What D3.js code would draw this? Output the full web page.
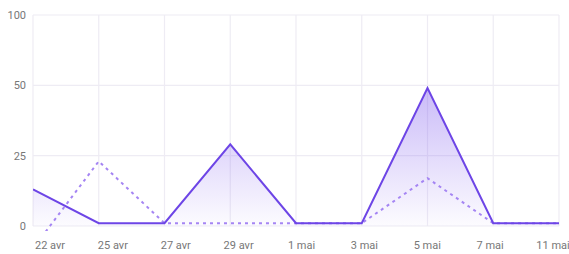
<!DOCTYPE html>
<html>
<head>
<meta charset="utf-8">
<script src="https://cdn.jsdelivr.net/npm/d3@7"></script>
<style>
  body { margin: 0; background: #fff; }
  text { font-family: Roboto, "Noto Sans", sans-serif; }
</style>
</head>
<body>
<div id="canvas"></div>
<script>
const dates = ["22 avr", "25 avr", "27 avr", "29 avr", "1 mai", "3 mai", "5 mai", "7 mai", "11 mai"];
const current = [13, 1, 1, 29, 1, 1, 49, 1, 1];
const previous = [-8, 23, 1, 1, 1, 1, 17, 1, 1];
const yTicks = [0, 25, 50, 100];

const width = 569;
const height = 254;
const margin = { top: 15, left: 33, bottom: 28, right: 10 };
const iwidth = width - margin.left - margin.right;
const iheight = height - margin.top - margin.bottom;

const svg = d3.select("#canvas").append("svg")
  .attr("width", width)
  .attr("height", height);

const defs = svg.append("defs");
const grad = defs.append("linearGradient")
  .attr("id", "fill")
  .attr("x1", 0).attr("y1", 0).attr("x2", 0).attr("y2", 1);
grad.append("stop").attr("offset", "0%").attr("stop-color", "#7b55ee").attr("stop-opacity", 0.4);
grad.append("stop").attr("offset", "100%").attr("stop-color", "#7b55ee").attr("stop-opacity", 0.02);

defs.append("clipPath").attr("id", "clip")
  .append("rect").attr("x", 0).attr("y", -5).attr("width", iwidth).attr("height", iheight + 10);

const g = svg.append("g").attr("transform", `translate(${margin.left},${margin.top})`);

const x = d3.scalePoint().domain(d3.range(dates.length)).range([0, iwidth]);
// labels drift a little from the grid in the original
const xLabel = d3.scalePoint().domain(d3.range(dates.length)).range([17, iwidth - 6]);

const y = d3.scaleLinear()
  .domain(yTicks)
  .range([iheight, iheight * 2 / 3, iheight / 3, 0]);

// grid
g.append("g")
  .selectAll("line.h")
  .data(yTicks)
  .enter().append("line")
  .attr("x1", 0).attr("x2", iwidth)
  .attr("y1", d => y(d)).attr("y2", d => y(d))
  .attr("stroke", "#eeecf4").attr("stroke-width", 1.2);

g.append("g")
  .selectAll("line.v")
  .data(d3.range(dates.length))
  .enter().append("line")
  .attr("x1", d => x(d)).attr("x2", d => x(d))
  .attr("y1", 0).attr("y2", iheight)
  .attr("stroke", "#eeecf4").attr("stroke-width", 1.2);

// y labels
g.append("g")
  .selectAll("text")
  .data(yTicks)
  .enter().append("text")
  .attr("x", -7)
  .attr("y", d => y(d))
  .attr("dy", "0.35em")
  .attr("text-anchor", "end")
  .attr("font-size", 11)
  .attr("fill", "#777")
  .text(d => d);

// x labels
g.append("g")
  .selectAll("text")
  .data(dates)
  .enter().append("text")
  .attr("x", (d, i) => xLabel(i))
  .attr("y", iheight + 23)
  .attr("text-anchor", "middle")
  .attr("font-size", 11)
  .attr("fill", "#777")
  .text(d => d);

const plot = g.append("g").attr("clip-path", "url(#clip)");

const area = d3.area()
  .x((d, i) => x(i))
  .y0(iheight)
  .y1(d => y(d));

const line = d3.line()
  .x((d, i) => x(i))
  .y(d => y(d));

plot.append("path")
  .datum(current)
  .attr("d", area)
  .attr("fill", "url(#fill)");

plot.append("path")
  .datum(previous)
  .attr("d", line)
  .attr("fill", "none")
  .attr("stroke", "#a585f3")
  .attr("stroke-width", 2)
  .attr("stroke-dasharray", "3,4");

plot.append("path")
  .datum(current)
  .attr("d", line)
  .attr("fill", "none")
  .attr("stroke", "#6d45e6")
  .attr("stroke-width", 2);
</script>
</body>
</html>
